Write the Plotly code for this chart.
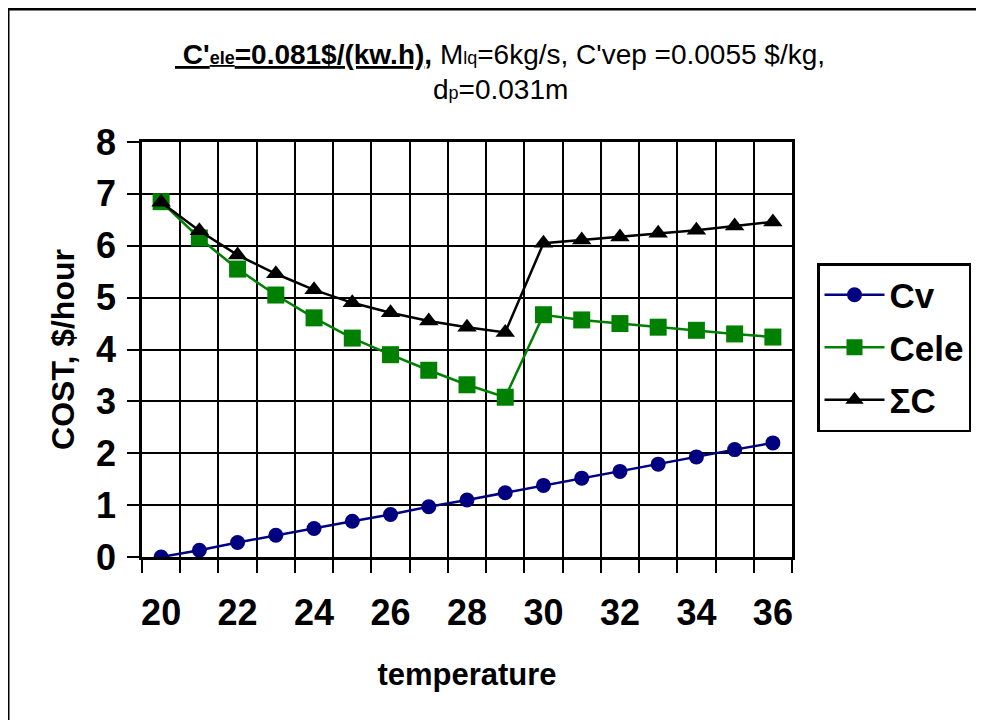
import plotly.graph_objects as go

temperature = list(range(20, 37))
cv = [0.00, 0.13, 0.28, 0.42, 0.55, 0.69, 0.82, 0.97, 1.10, 1.24, 1.38, 1.52, 1.65, 1.79, 1.93, 2.07, 2.20]
cele = [6.85, 6.15, 5.55, 5.05, 4.61, 4.22, 3.90, 3.60, 3.32, 3.08, 4.67, 4.57, 4.50, 4.43, 4.37, 4.30, 4.24]
sigma_c = [6.84, 6.29, 5.82, 5.46, 5.15, 4.90, 4.71, 4.55, 4.43, 4.33, 6.05, 6.11, 6.17, 6.24, 6.30, 6.38, 6.46]
x_tick_labels = [20, 22, 24, 26, 28, 30, 32, 34, 36]
y_tick_labels = [0, 1, 2, 3, 4, 5, 6, 7, 8]

FONT = "Liberation Sans, Arial, sans-serif"

OFF = 8  # page body margin
W, H = 984 - OFF, 720 - OFF
PL, PR, PT, PB = 142, 792, 142, 557  # plot area in screenshot pixels
L, T = PL - OFF, PT - OFF
R, B = W - (PR - OFF), H - (PB - OFF)
PW, PH = W - L - R, H - T - B


def px_x(p):
    return (p - PL) / PW


def px_y(p):
    return (PB - p) / PH


fig = go.Figure()
fig.add_trace(go.Scatter(x=temperature, y=cv, name="Cv", mode="lines+markers",
                         line=dict(color="#000080", width=2.5),
                         marker=dict(symbol="circle", size=15, color="#000080"),
                         legendgroup="a"))
fig.add_trace(go.Scatter(x=temperature, y=cele, name="Cele", mode="lines+markers",
                         line=dict(color="#008000", width=2.5),
                         marker=dict(symbol="square", size=17, color="#008000"),
                         legendgroup="b"))
fig.add_trace(go.Scatter(x=temperature, y=sigma_c, name="ΣC", mode="lines+markers",
                         line=dict(color="#000000", width=2.5),
                         marker=dict(symbol="triangle-up", size=17, color="#000000"),
                         legendgroup="c"))

fig.update_layout(
    width=W, height=H,
    margin=dict(l=L, r=R, t=T, b=B, autoexpand=False),
    paper_bgcolor="white", plot_bgcolor="white",
    font=dict(family=FONT, color="black"),
    showlegend=True,
    legend=dict(x=px_x(817), y=px_y(263), xanchor="left", yanchor="top",
                bordercolor="black", borderwidth=2.5, bgcolor="white",
                font=dict(family=FONT, size=35, color="black", weight="bold"),
                tracegroupgap=4, itemwidth=60),
    xaxis=dict(range=[19.5, 36.5], tickmode="array", tickvals=x_tick_labels,
               ticktext=[str(v) for v in x_tick_labels], ticks="", showgrid=False,
               ticklabelstandoff=22, zeroline=False,
               tickfont=dict(family=FONT, size=36, color="black", weight="bold"),
               showline=True, linecolor="black", linewidth=2.5, mirror=True,
               minor=dict(tickmode="array", tickvals=[19.5 + i for i in range(18)],
                          ticks="outside", ticklen=13, tickwidth=2, tickcolor="black",
                          showgrid=True, gridcolor="black", gridwidth=2),
               title=dict(text="<b>temperature</b>", standoff=32,
                          font=dict(family=FONT, size=31, color="black"))),
    yaxis=dict(range=[0, 8], tickmode="array", tickvals=y_tick_labels,
               ticks="outside", ticklen=12, tickwidth=2, tickcolor="black",
               showgrid=True, gridcolor="black", gridwidth=2, zeroline=False,
               ticklabelstandoff=4,
               tickfont=dict(family=FONT, size=36, color="black", weight="bold"),
               showline=True, linecolor="black", linewidth=2.5, mirror=True,
               title=dict(text="<b>COST, $/hour</b>", standoff=12,
                          font=dict(family=FONT, size=32, color="black"))),
)

fig.add_shape(type="rect", xref="paper", yref="paper",
              x0=px_x(8), x1=px_x(1000), y0=px_y(740), y1=px_y(9),
              line=dict(color="black", width=3), fillcolor="rgba(0,0,0,0)", layer="above")

fig.add_annotation(xref="paper", yref="paper", x=px_x(500), y=px_y(55),
                   xanchor="center", yanchor="middle", showarrow=False,
                   text="<u><b> C'<span style='font-size:18px'>ele</span>=0.081$/(kw.h)</b></u><b>,</b>"
                        " M<span style='font-size:18px'>lq</span>=6kg/s, C'vep =0.0055 $/kg,",
                   font=dict(family=FONT, size=28, color="black"))
fig.add_annotation(xref="paper", yref="paper", x=px_x(500), y=px_y(90),
                   xanchor="center", yanchor="middle", showarrow=False,
                   text="d<span style='font-size:18px'>p</span>=0.031m",
                   font=dict(family=FONT, size=28, color="black"))

fig.write_html("out.html")
